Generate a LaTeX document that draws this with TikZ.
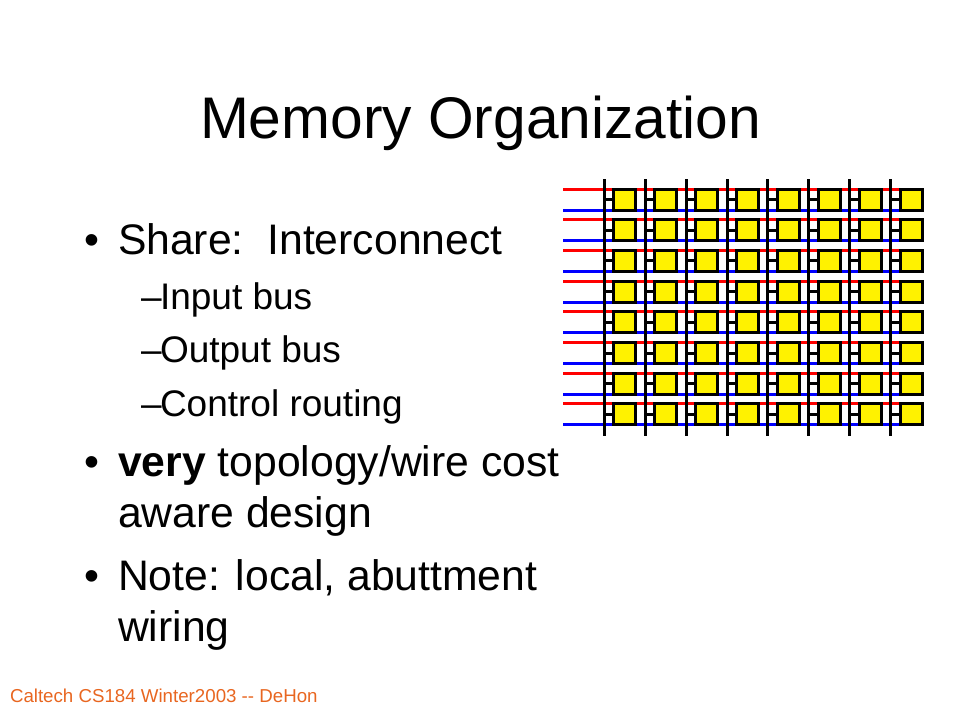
\documentclass[tikz,border=0pt]{standalone}
\usepackage{fontspec}
\setmainfont{Liberation Sans}
\usetikzlibrary{positioning}
\definecolor{footer}{RGB}{232,102,32}
\tikzset{
    x=1pt, y=-1pt,
    every node/.style={inner sep=0pt, outer sep=0pt}, % text sits right on its coordinate
    headline/.style={anchor=base west, font=\fontsize{58.7}{58}\selectfont},
    bigitem/.style={anchor=base west, align=left, font=\fontsize{42.7}{51}\selectfont},
    subitem/.style={anchor=base west, font=\fontsize{37}{40}\selectfont},
    footline/.style={anchor=base west, text=footer, font=\fontsize{18.7}{18}\selectfont},
    redwire/.style={draw=red, line width=3pt},
    bluewire/.style={draw=blue, line width=3pt},
    blackwire/.style={draw=black, line width=3pt},
    cell/.style={draw=black, fill=yellow, line width=3pt, minimum width=22pt, minimum height=21pt},
}
\begin{document}
\begin{tikzpicture}
    \useasboundingbox (0,0) rectangle (960,720);
    \node[headline] (title) at (200,138) {Memory Organization};
    \node[bigitem] (b1) at (84,254) {•};
    \node[bigitem] (share) at (118,254) {Share:\ \ Interconnect};
    \node[subitem] (d1) at (141,309) {–};
    \node[subitem] (inbus) at (160,309) {Input bus};
    \node[subitem] (d2) at (141,362) {–};
    \node[subitem] (outbus) at (160,362) {Output bus};
    \node[subitem] (d3) at (141,416) {–};
    \node[subitem] (ctrl) at (160,416) {Control routing};
    \node[bigitem] (b2) at (84,476) {•};
    \node[bigitem] (very) at (118,476) {\textbf{very} topology/wire cost};
    \node[bigitem] (aware) at (118,527) {aware design};
    \node[bigitem] (b3) at (84,590) {•};
    \node[bigitem] (note) at (118,590) {Note: local, abuttment};
    \node[bigitem] (wiring) at (118,641) {wiring};
    \node[footline] (foot) at (10,702.5) {Caltech CS184 Winter2003 -{}- DeHon};
    % horizontal wires first, they run behind the cells
    \foreach \r in {0,...,7} {
        \coordinate (rs\r) at (563,189+30.7*\r);
        \coordinate (re\r) at (920,189+30.7*\r);
        \coordinate (bs\r) at (563,210+30.7*\r);
        \coordinate (be\r) at (920,210+30.7*\r);
        \draw[redwire] (rs\r) -- (re\r);
        \draw[bluewire] (bs\r) -- (be\r);
    }
    \foreach \c in {0,...,7} {
        \coordinate (vt\c) at (604.3+40.9*\c,179);
        \coordinate (vb\c) at (604.3+40.9*\c,436);
        \draw[blackwire] (vt\c) -- (vb\c);
        \foreach \r in {0,...,7} {
            \node[cell] (m\r\c) at (624.8+40.9*\c,199.5+30.7*\r) {};
            \coordinate (tap\r\c) at (604.3+40.9*\c,199.5+30.7*\r);
            \draw[blackwire] (tap\r\c) -- (m\r\c);
        }
    }
\end{tikzpicture}
\end{document}
